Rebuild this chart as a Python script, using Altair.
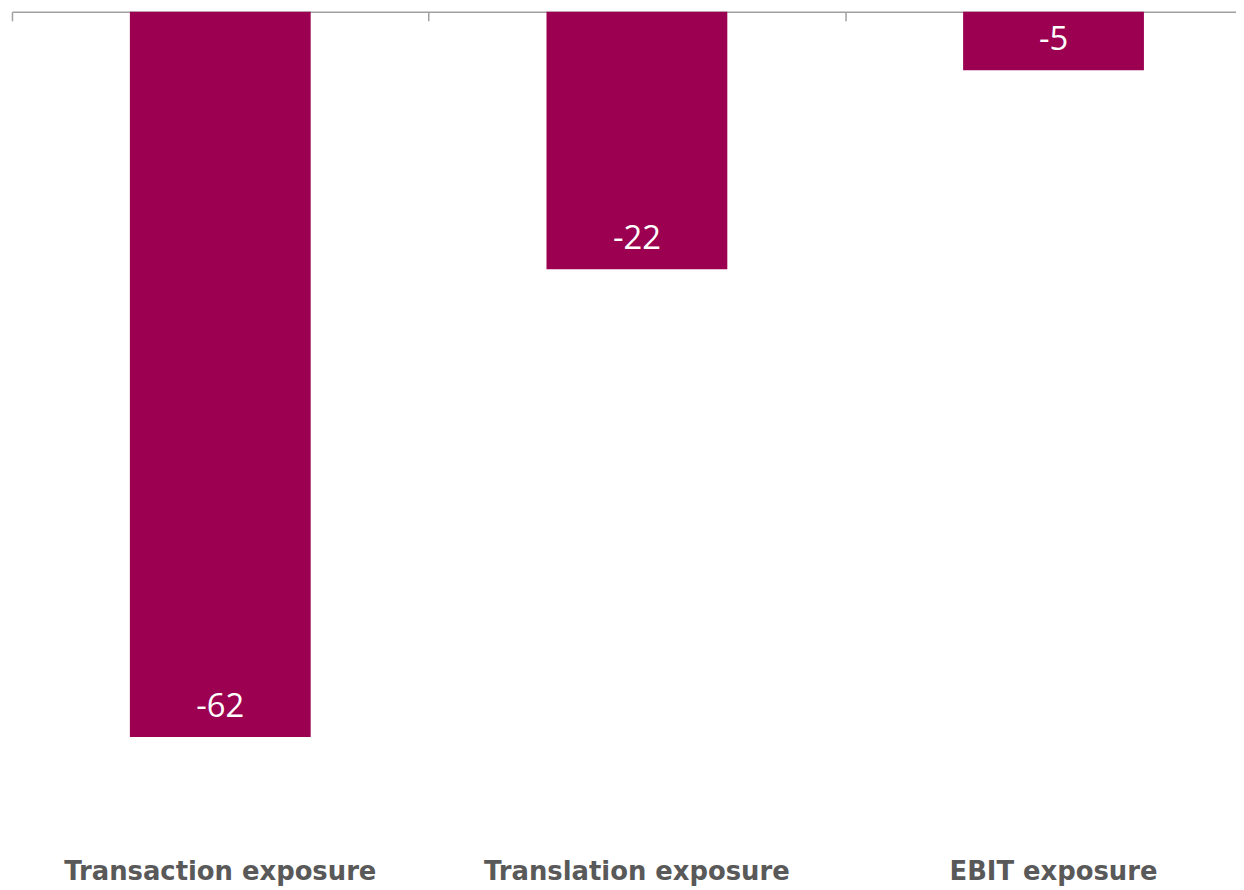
import altair as alt
import pandas as pd

categories = ["Transaction exposure", "Translation exposure", "EBIT exposure"]
values = [-62, -22, -5]
value_labels = ["-62", "-22", "-5"]

df = pd.DataFrame({"category": categories, "value": values, "label": value_labels})

BAR = "#9C0050"
RANGE = 1258
STEP = RANGE / 3

xscale = alt.Scale(range=[0, RANGE], paddingInner=0.566, paddingOuter=0.283)

axis_top = alt.Axis(
    orient="bottom",
    offset=-824,
    title=None,
    grid=False,
    labels=False,
    domainColor="#A0A0A0",
    domainWidth=1.5,
    tickColor="#A0A0A0",
    tickWidth=1.5,
    tickSize=9,
    tickOffset=-STEP / 2,
)

axis_labels = alt.Axis(
    orient="bottom",
    title=None,
    grid=False,
    domain=False,
    ticks=False,
    tickSize=0,
    labelPadding=49,
    labelLimit=0,
    labelBaseline="alphabetic",
    labelFont="DejaVu Sans",
    labelFontWeight="bold",
    labelFontSize=26,
    labelColor="#595959",
    labelAngle=0,
)

y = alt.Y(
    "value:Q",
    scale=alt.Scale(domain=[-70, 0], nice=False, zero=True),
    axis=None,
)

bars = alt.Chart(df).mark_bar(color=BAR).encode(
    x=alt.X("category:N", sort=categories, scale=xscale, axis=axis_top),
    y=y,
)

labels = alt.Chart(df).mark_text(
    color="white",
    font="Open Sans",
    fontSize=33,
    baseline="alphabetic",
    dy=-20,
).encode(
    x=alt.X("category:N", sort=categories, scale=xscale, axis=axis_labels),
    y=alt.Y("value:Q"),
    text=alt.Text("label:N"),
)

chart = alt.layer(bars, labels).resolve_axis(x="independent").properties(
    width=1232,
    height=824,
    background="white",
    padding={"left": 4, "top": 1, "right": 0, "bottom": 56},
    autosize=alt.AutoSizeParams(type="none"),
).configure_view(stroke=None)

chart.save("out.html", embed_options={"renderer": "svg", "actions": False})
